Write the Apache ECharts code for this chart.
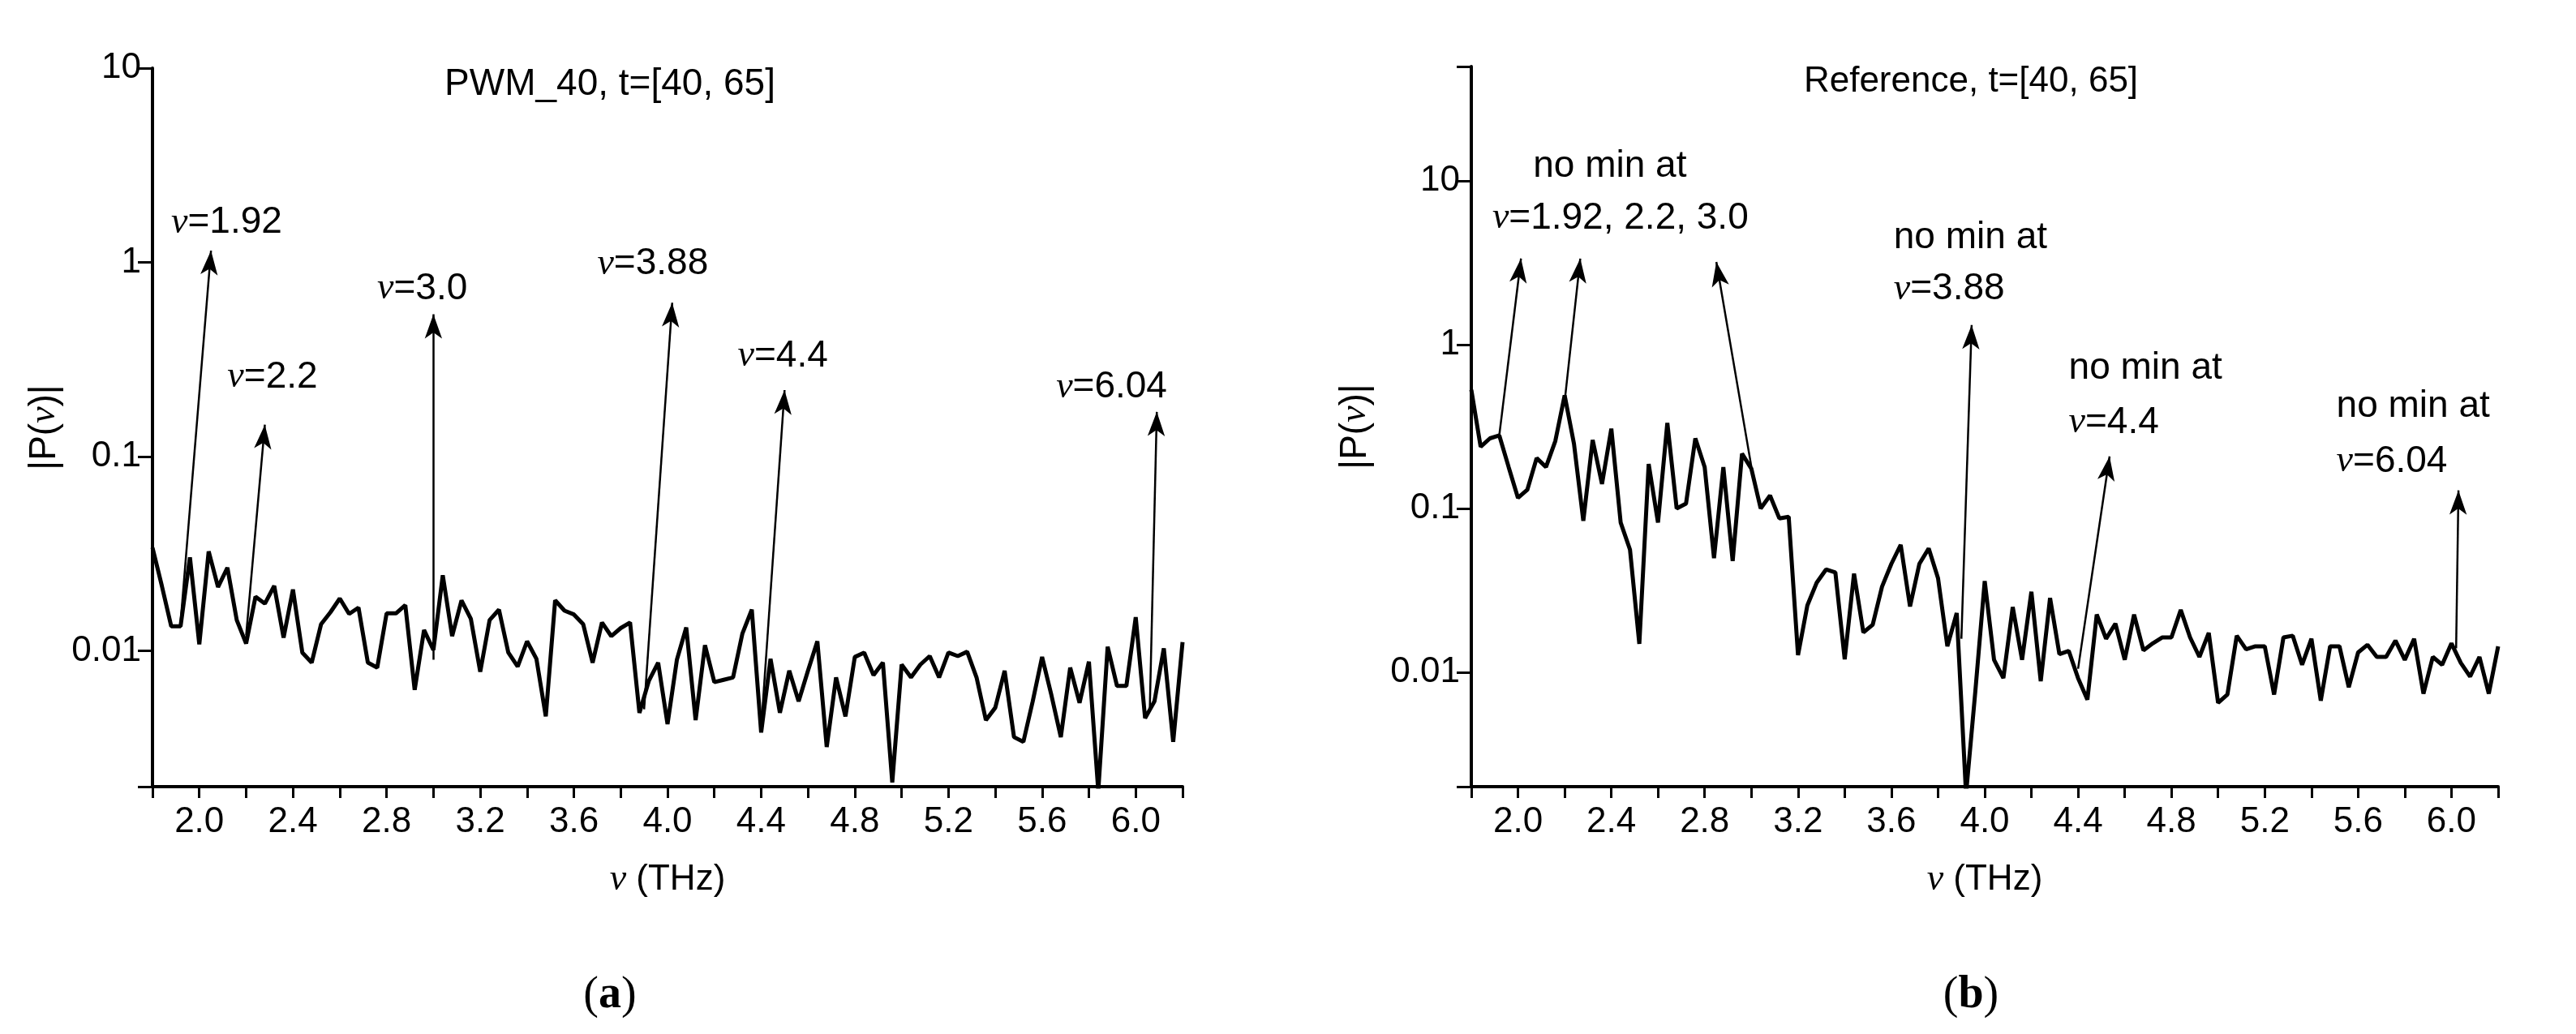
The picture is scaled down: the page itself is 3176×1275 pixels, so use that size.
<!DOCTYPE html>
<html>
<head>
<meta charset="utf-8">
<script src="https://cdn.jsdelivr.net/npm/echarts@6/dist/echarts.min.js"></script>
<style>
  html, body { margin: 0; padding: 0; background: #fff; }
  #chart { width: 3176px; height: 1275px; }
</style>
</head>
<body>
<div id="chart"></div>
<script>
// frequency grid, 1.8 .. 6.2 THz step 0.04
var freqStart = 1.8, freqStep = 0.04

// (a) PWM_40, |P(v)|
var pwm40 = [
  0.034, 0.0216, 0.0134, 0.0134, 0.0303, 0.0108, 0.0325, 0.0213, 0.0268, 0.0144,
  0.0109, 0.019, 0.0175, 0.0216, 0.0117, 0.0207, 0.0098, 0.0087, 0.0137, 0.0158,
  0.0186, 0.0155, 0.0167, 0.0087, 0.0082, 0.0156, 0.0156, 0.0172, 0.0063, 0.0128,
  0.0101, 0.0245, 0.0119, 0.0182, 0.0146, 0.0078, 0.0144, 0.0163, 0.0098, 0.0083,
  0.0112, 0.0091, 0.0046, 0.0182, 0.0161, 0.0154, 0.0137, 0.0087, 0.014, 0.0119,
  0.0131, 0.014, 0.0048, 0.007, 0.0087, 0.0042, 0.009,
  0.0132, 0.0044, 0.0107, 0.0069, 0.0071, 0.0073, 0.0123, 0.0163, 0.0038, 0.0091,
  0.0048, 0.0079, 0.0055, 0.0079, 0.0112, 0.0032, 0.0073, 0.0046, 0.0093, 0.0098,
  0.0075, 0.0087, 0.0021, 0.0085, 0.0073, 0.0085, 0.0094, 0.0073, 0.0098, 0.0094,
  0.0099, 0.0073, 0.0044, 0.0051, 0.0079, 0.0036, 0.0034, 0.0055, 0.0093, 0.0059,
  0.0036, 0.0082, 0.0054, 0.0088, 0.0019, 0.0105, 0.0066, 0.0066, 0.0149, 0.0045,
  0.0055, 0.0103, 0.0034, 0.0111
]

// (b) Reference, |P(v)|
var reference = [
  0.53, 0.238, 0.268, 0.279, 0.179, 0.116, 0.130, 0.203, 0.179, 0.258,
  0.49, 0.248, 0.084, 0.262, 0.141, 0.307, 0.082, 0.056, 0.0149, 0.187,
  0.082, 0.333, 0.100, 0.107, 0.268, 0.179, 0.0497, 0.179, 0.0478, 0.216,
  0.175, 0.100, 0.120, 0.087, 0.089, 0.0127, 0.0256, 0.0352, 0.0424, 0.0407,
  0.0120, 0.040, 0.0175, 0.0195, 0.0333, 0.0459, 0.060, 0.0252, 0.0459, 0.057,
  0.0375, 0.0144, 0.0230, 0.0018, 0.0077, 0.036, 0.0119,
  0.0092, 0.025, 0.0119, 0.031, 0.0088, 0.0284, 0.0129, 0.0135, 0.0092, 0.0068,
  0.0225, 0.016, 0.0198, 0.0119, 0.0225, 0.0136, 0.015, 0.0163, 0.0163, 0.024,
  0.0163, 0.0124, 0.0174, 0.0065, 0.0073, 0.0167, 0.0138, 0.0144, 0.0144, 0.0073,
  0.0163, 0.0167, 0.0111, 0.016, 0.0067, 0.0144, 0.0144, 0.0081, 0.0132, 0.0147,
  0.0124, 0.0124, 0.0156, 0.0119, 0.016, 0.0074, 0.0124, 0.0111, 0.015, 0.0114,
  0.0094, 0.0124, 0.0074, 0.0144
]

// annotation arrows: [from v, from |P|, to v, to |P|]
var arrowsA = [
  [1.92, 0.014, 2.05, 1.15],
  [2.2, 0.012, 2.28, 0.146],
  [3.0, 0.009, 3.0, 0.54],
  [3.9, 0.005, 4.02, 0.62],
  [4.4, 0.004, 4.5, 0.22],
  [6.06, 0.005, 6.09, 0.17]
]
var textsA = [
  [1.88, 1.6, '{n|ν}=1.92'],
  [2.12, 0.256, '{n|ν}=2.2'],
  [2.76, 0.73, '{n|ν}=3.0'],
  [3.70, 0.98, '{n|ν}=3.88'],
  [4.30, 0.33, '{n|ν}=4.4'],
  [5.66, 0.227, '{n|ν}=6.04']
]
var arrowsB = [
  [1.92, 0.28, 2.013, 3.36],
  [2.2, 0.45, 2.267, 3.36],
  [3.0, 0.18, 2.85, 3.2],
  [3.9, 0.016, 3.944, 1.32],
  [4.4, 0.0105, 4.535, 0.208],
  [6.02, 0.014, 6.03, 0.129]
]
var textsB = [
  [2.065, 12.2, 'no min at'],
  [1.89, 5.9, '{n|ν}=1.92, 2.2, 3.0'],
  [3.61, 4.47, 'no min at'],
  [3.61, 2.18, '{n|ν}=3.88'],
  [4.36, 0.72, 'no min at'],
  [4.36, 0.335, '{n|ν}=4.4'],
  [5.507, 0.417, 'no min at'],
  [5.507, 0.194, '{n|ν}=6.04']
]

function pairs(vals) {
  return vals.map(function (v, i) { return [+(freqStart + i * freqStep).toFixed(2), v] })
}

var txtFont = 'Liberation Sans'
var rich = { n: { fontFamily: 'Liberation Serif', fontStyle: 'italic', fontSize: 46 } }

function xAxis(idx) {
  return {
    gridIndex: idx, type: 'value', min: 1.8, max: 6.2, interval: 0.2,
    name: '{n|ν} (THz)', nameLocation: 'middle', nameGap: 92,
    nameTextStyle: { fontSize: 44, fontFamily: txtFont, color: '#000', rich: rich },
    axisLine: { onZero: false, lineStyle: { color: '#000', width: 4 } },
    axisTick: { inside: false, length: 14, lineStyle: { color: '#000', width: 3 } },
    axisLabel: {
      fontSize: 44, fontFamily: txtFont, color: '#000', margin: 22,
      formatter: function (v) { return Math.round(v * 10) % 4 === 0 ? v.toFixed(1) : '' }
    },
    splitLine: { show: false }
  }
}
function yAxis(idx, max, gap) {
  return {
    gridIndex: idx, type: 'log', logBase: 10, min: 0.002, max: max,
    name: '|P({n|ν})|', nameLocation: 'middle', nameGap: gap, nameRotate: 90,
    nameTextStyle: { fontSize: 46, fontFamily: txtFont, color: '#000', rich: rich },
    axisLine: { lineStyle: { color: '#000', width: 4 } },
    axisTick: { inside: false, length: 18, lineStyle: { color: '#000', width: 3 } },
    axisLabel: {
      fontSize: 44, fontFamily: txtFont, color: '#000', margin: 14,
      formatter: function (v) {
        var e = Math.log10(v)
        return Math.abs(e - Math.round(e)) < 1e-6 ? String(+v.toPrecision(1)) : ''
      }
    },
    splitLine: { show: false }
  }
}

function series(idx, vals, arrows, texts) {
  return {
    type: 'line', xAxisIndex: idx, yAxisIndex: idx, data: pairs(vals),
    symbol: 'none', lineStyle: { color: '#000', width: 5 }, animation: false,
    markLine: {
      silent: true, animation: false, symbol: ['none', 'arrow'], symbolSize: [16, 30],
      lineStyle: { color: '#000', width: 2.5, type: 'solid' }, label: { show: false },
      data: arrows.map(function (a) { return [{ coord: [a[0], a[1]] }, { coord: [a[2], a[3]] }] })
    },
    markPoint: {
      silent: true, animation: false, symbol: 'circle', symbolSize: 0,
      label: {
        show: true, position: 'right', distance: 0, color: '#000', fontSize: 46,
        fontFamily: txtFont, rich: rich,
        formatter: function (p) { return p.name }
      },
      data: texts.map(function (t) { return { name: t[2], coord: [t[0], t[1]] } })
    }
  }
}

var chart = echarts.init(document.getElementById('chart'))
chart.setOption({
  backgroundColor: '#fff',
  title: [
    { text: 'PWM_40, t=[40, 65]', left: 747, top: 76, textAlign: 'center',
      textStyle: { fontSize: 46, fontWeight: 'normal', fontFamily: txtFont, color: '#000' } },
    { text: 'Reference, t=[40, 65]', left: 2425, top: 74, textAlign: 'center',
      textStyle: { fontSize: 44, fontWeight: 'normal', fontFamily: txtFont, color: '#000' } },
    { text: '({b|a})', left: 747, top: 1195, textAlign: 'center',
      textStyle: { fontSize: 56, fontWeight: 'normal', fontFamily: 'Liberation Serif', color: '#000',
        rich: { b: { fontWeight: 'bold', fontSize: 56, fontFamily: 'Liberation Serif' } } } },
    { text: '({b|b})', left: 2425, top: 1195, textAlign: 'center',
      textStyle: { fontSize: 56, fontWeight: 'normal', fontFamily: 'Liberation Serif', color: '#000',
        rich: { b: { fontWeight: 'bold', fontSize: 56, fontFamily: 'Liberation Serif' } } } }
  ],
  grid: [
    { left: 188, right: 1718, top: 84, bottom: 305 },
    { left: 1814, right: 96, top: 82, bottom: 305 }
  ],
  xAxis: [xAxis(0), xAxis(1)],
  yAxis: [yAxis(0, 10, 110), yAxis(1, 50, 120)],
  series: [
    series(0, pwm40, arrowsA, textsA),
    series(1, reference, arrowsB, textsB)
  ]
})
</script>
</body>
</html>
